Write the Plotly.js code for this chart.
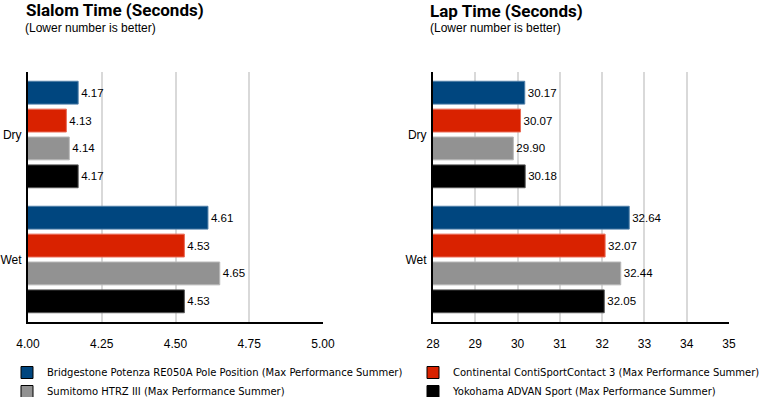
<!DOCTYPE html>
<html>
<head>
<meta charset="utf-8">
<script src="https://cdn.plot.ly/plotly-3.0.1.min.js"></script>
<style>html,body{margin:0;padding:0;background:#fff;overflow:hidden;}#chart{width:760px;height:397px;}</style>
</head>
<body>
<div id="chart"></div>
<script>
const conditions = ["Dry", "Wet"];
const tireNames = [
  "Bridgestone Potenza RE050A Pole Position (Max Performance Summer)",
  "Continental ContiSportContact 3 (Max Performance Summer)",
  "Sumitomo HTRZ III (Max Performance Summer)",
  "Yokohama ADVAN Sport (Max Performance Summer)"
];
const tireColors = ["#00467f", "#d92200", "#929292", "#000000"];
const tireBorders = ["#4f7fa8", "#ea6a55", "#b8b8b8", "#555555"];
const slalomBridgestone = [4.17, 4.61];
const slalomContinental = [4.13, 4.53];
const slalomSumitomo = [4.14, 4.65];
const slalomYokohama = [4.17, 4.53];
const lapBridgestone = [30.17, 32.64];
const lapContinental = [30.07, 32.07];
const lapSumitomo = [29.90, 32.44];
const lapYokohama = [30.18, 32.05];
const slalomTicks = [4.00, 4.25, 4.50, 4.75, 5.00];
const lapTicks = [28, 29, 30, 31, 32, 33, 34, 35];

const slalomSeries = [slalomBridgestone, slalomContinental, slalomSumitomo, slalomYokohama];
const lapSeries = [lapBridgestone, lapContinental, lapSumitomo, lapYokohama];
const legendFor = ["legend", "legend2", "legend", "legend2"];

const W = 760, H = 397;
const px = v => v / W;
const py = v => 1 - v / H;
const valueFont = {family: "Liberation Sans, Arial, sans-serif", size: 11.5, color: "#000"};

const traces = [];
function addSeries(seriesList, xa, ya) {
  seriesList.forEach((vals, i) => {
    traces.push({
      type: "bar", orientation: "h", x: vals, y: conditions, name: tireNames[i],
      xaxis: xa, yaxis: ya,
      marker: {color: tireColors[i], line: {color: tireBorders[i], width: 1}},
      text: vals.map(v => v.toFixed(2)), textposition: "outside", cliponaxis: false,
      constraintext: "none", textfont: valueFont,
      showlegend: false, hoverinfo: "skip"
    });
  });
}
addSeries(slalomSeries, "x", "y");
addSeries(lapSeries, "x2", "y2");
// legend entries on a hidden helper axis pair so they do not affect bar grouping
[0, 2, 1, 3].forEach(i => {
  traces.push({
    type: "bar", orientation: "h", x: [null], y: [null], name: tireNames[i],
    xaxis: "x3", yaxis: "y3", legend: legendFor[i],
    marker: {color: tireColors[i], line: {color: "#000", width: 1}},
    showlegend: true, hoverinfo: "skip"
  });
});

const tickFont = {family: "Liberation Sans, Arial, sans-serif", size: 12, color: "#000"};
const xBase = {
  showgrid: true, gridcolor: "#d9d9d9", gridwidth: 2, zeroline: false,
  showline: true, linecolor: "#000", linewidth: 2, ticks: "", tickfont: tickFont,
  ticklabelstandoff: 10, fixedrange: true, automargin: false
};
const yBase = {
  type: "category", autorange: "reversed", showgrid: false, zeroline: false,
  showline: true, linecolor: "#000", linewidth: 2, ticks: "", tickfont: tickFont,
  ticklabelstandoff: 2, fixedrange: true, automargin: false
};
const legendFont = {family: "DejaVu Sans, sans-serif", size: 10, color: "#000"};
const titleFont = {family: "Roboto, sans-serif", size: 17, weight: 700, color: "#000"};
const subFont = {family: "Liberation Sans, Arial, sans-serif", size: 12, color: "#000"};

const layout = {
  width: W, height: H, autosize: false,
  margin: {l: 0, r: 0, t: 0, b: 0, autoexpand: false},
  paper_bgcolor: "#fff", plot_bgcolor: "#fff",
  title: {text: "Slalom Time (Seconds)", font: titleFont, xref: "container", yref: "container",
    x: px(26), xanchor: "left", y: py(10.5), yanchor: "middle", pad: {t: 0, b: 0, l: 0, r: 0}, automargin: false},
  barmode: "group", bargap: 0.108, bargroupgap: 0.18,
  xaxis: Object.assign({}, xBase, {domain: [px(28), px(323)], range: [4, 5], tickvals: slalomTicks, ticktext: slalomTicks.map(v => v.toFixed(2)), anchor: "y"}),
  yaxis: Object.assign({}, yBase, {domain: [py(322), py(72)], anchor: "x"}),
  xaxis2: Object.assign({}, xBase, {domain: [px(433), px(729)], range: [28, 35], tickvals: lapTicks, ticktext: lapTicks.map(String), anchor: "y2"}),
  yaxis2: Object.assign({}, yBase, {domain: [py(322), py(72)], anchor: "x2"}),
  xaxis3: {visible: false, domain: [0, 0.01], anchor: "y3", fixedrange: true},
  yaxis3: {visible: false, domain: [0, 0.01], anchor: "x3", fixedrange: true},
  legend: {xref: "container", yref: "container", x: px(7), y: py(358), xanchor: "left", yanchor: "top",
    bgcolor: "rgba(0,0,0,0)", font: legendFont, traceorder: "normal"},
  legend2: {xref: "container", yref: "container", x: px(413), y: py(358), xanchor: "left", yanchor: "top",
    bgcolor: "rgba(0,0,0,0)", font: legendFont, traceorder: "normal"},
  annotations: [
    {text: "(Lower number is better)", xref: "paper", yref: "paper", x: px(23), y: py(27.5), xanchor: "left", yanchor: "middle", showarrow: false, font: subFont},
    {text: "Lap Time (Seconds)", xref: "paper", yref: "paper", x: px(429), y: 1, xanchor: "left", yanchor: "top", borderpad: 0, showarrow: false, font: titleFont},
    {text: "(Lower number is better)", xref: "paper", yref: "paper", x: px(428), y: py(27.5), xanchor: "left", yanchor: "middle", showarrow: false, font: subFont}
  ]
};

Plotly.newPlot("chart", traces, layout, {displayModeBar: false, staticPlot: true});
</script>
</body>
</html>
